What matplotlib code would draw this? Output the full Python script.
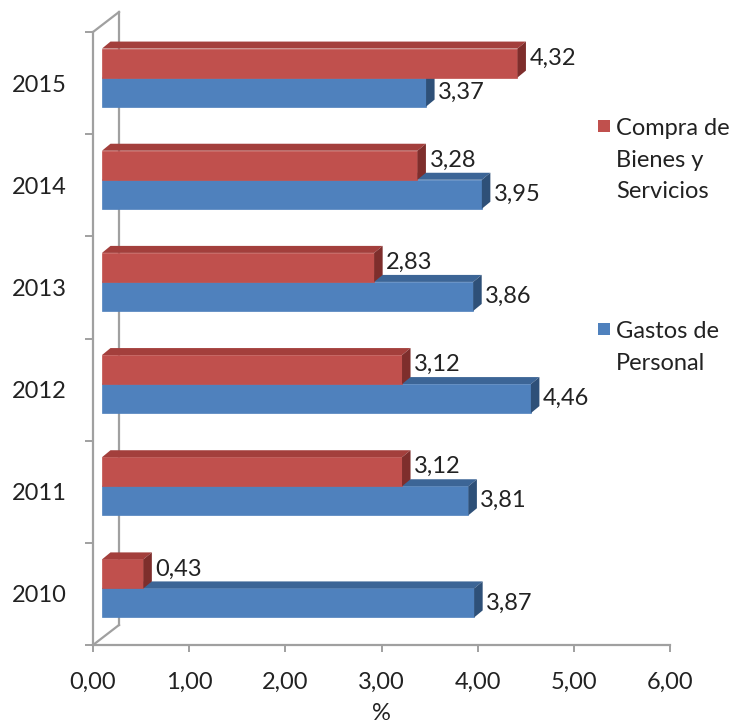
import matplotlib
matplotlib.use("Agg")
import matplotlib.pyplot as plt
from matplotlib.patches import Polygon, Rectangle
from matplotlib.transforms import offset_copy, IdentityTransform
import numpy as np

years = ["2010", "2011", "2012", "2013", "2014", "2015"]
compra = [0.43, 3.12, 3.12, 2.83, 3.28, 4.32]
gastos = [3.87, 3.81, 4.46, 3.86, 3.95, 3.37]
series_names = ["Compra de\nBienes y\nServicios", "Gastos de\nPersonal"]
xticks = [0, 1, 2, 3, 4, 5, 6]

plt.rcParams['font.family'] = ['Lato', 'DejaVu Sans']
FS = 17
GRAY = "#A0A0A0"
TXT = "#222222"

red = {"front": "#C0504D", "top": "#A33F3C", "side": "#7E2E2C"}
blue = {"front": "#4F81BD", "top": "#3C6596", "side": "#2E5078"}

W, H = 735, 728
fig = plt.figure(figsize=(W / 100, H / 100), dpi=100)
ax = fig.add_axes([93 / W, 83 / H, 577 / W, 613 / H])
ax.set_xlim(0, 6)
ax.set_ylim(-0.5, 5.5)
for s in ["top", "right"]:
    ax.spines[s].set_visible(False)
for s in ["left", "bottom"]:
    ax.spines[s].set_color(GRAY)
    ax.spines[s].set_linewidth(1.6)

ax.set_xticks(xticks)
ax.set_xticklabels([f"{t:.2f}".replace(".", ",") for t in xticks], fontsize=FS, color=TXT)
ax.tick_params(axis="x", length=5, width=1.4, color=GRAY, pad=14)
ax.set_yticks(range(len(years)))
ax.set_yticklabels(years, fontsize=FS, color=TXT)
ax.tick_params(axis="y", which="major", length=0, pad=19)
ax.set_yticks(np.arange(-0.5, len(years), 1.0), minor=True)
ax.tick_params(axis="y", which="minor", length=6, width=1.4, color=GRAY)
ax.set_xlabel("%", fontsize=FS, color=TXT, labelpad=8)

# 3D geometry in pixels
WALL = (26, 20)
BOFF = (9, 5.5)
DEPTH = (8.5, 7)
bh = 0.284

def disp(x, y, dx=0.0, dy=0.0):
    p = ax.transData.transform((x, y))
    return (p[0] + dx, p[1] + dy)

# back wall lines
ident = IdentityTransform()
ylo, yhi = -0.5, len(years) - 0.5
for yy in (ylo, yhi):
    a = disp(0, yy)
    b = disp(0, yy, *WALL)
    ax.add_line(plt.Line2D([a[0], b[0]], [a[1], b[1]], color=GRAY, lw=1.6,
                           transform=ident, clip_on=False, zorder=1))
a = disp(0, ylo, *WALL)
b = disp(0, yhi, *WALL)
ax.add_line(plt.Line2D([a[0], b[0]], [a[1], b[1]], color=GRAY, lw=1.6,
                       transform=ident, clip_on=False, zorder=1))

bar_tr = offset_copy(ax.transData, fig=fig, x=BOFF[0], y=BOFF[1], units="dots")
ypos = np.arange(len(years))

def draw_bar(v, yc, col, z):
    y0, y1 = yc - bh / 2, yc + bh / 2
    ax.barh([yc], [v], height=bh, left=0, color=col["front"], transform=bar_tr,
            zorder=z, clip_on=False, edgecolor=col["front"], linewidth=0.5)
    ox, oy = BOFF
    dx, dy = DEPTH
    top = [disp(0, y1, ox, oy), disp(v, y1, ox, oy),
           disp(v, y1, ox + dx, oy + dy), disp(0, y1, ox + dx, oy + dy)]
    side = [disp(v, y0, ox, oy), disp(v, y0, ox + dx, oy + dy),
            disp(v, y1, ox + dx, oy + dy), disp(v, y1, ox, oy)]
    ax.add_patch(Polygon(top, closed=True, facecolor=col["top"], edgecolor="none",
                         transform=ident, clip_on=False, zorder=z))
    ax.add_patch(Polygon(side, closed=True, facecolor=col["side"], edgecolor="none",
                         transform=ident, clip_on=False, zorder=z))

for i in range(len(years)):
    draw_bar(gastos[i], ypos[i] - bh / 2, blue, 2 + 2 * i)
    draw_bar(compra[i], ypos[i] + bh / 2, red, 3 + 2 * i)

lab_red = offset_copy(ax.transData, fig=fig, x=BOFF[0] + 12, y=BOFF[1] + 5, units="dots")
lab_blue = offset_copy(ax.transData, fig=fig, x=BOFF[0] + 12, y=BOFF[1], units="dots")
for i in range(len(years)):
    ax.text(compra[i], ypos[i] + bh / 2, f"{compra[i]:.2f}".replace(".", ","),
            transform=lab_red, fontsize=FS, color=TXT, va="center", ha="left", zorder=20)
    ax.text(gastos[i], ypos[i] - bh / 2, f"{gastos[i]:.2f}".replace(".", ","),
            transform=lab_blue, fontsize=FS, color=TXT, va="center", ha="left", zorder=20)

# legend (manual)
leg = [(series_names[0], red["front"], 126), (series_names[1], blue["front"], 329)]
for txt, col, ypx in leg:
    fig.patches.append(Rectangle((598 / W, 1 - (ypx + 6) / H), 12 / W, 12 / H,
                                 transform=fig.transFigure, facecolor=col, edgecolor="none"))
    fig.text(616 / W, 1 - (ypx - 8) / H, txt, fontsize=FS, color=TXT,
             va="top", ha="left", linespacing=1.62)

fig.savefig("out.png", dpi=100)
